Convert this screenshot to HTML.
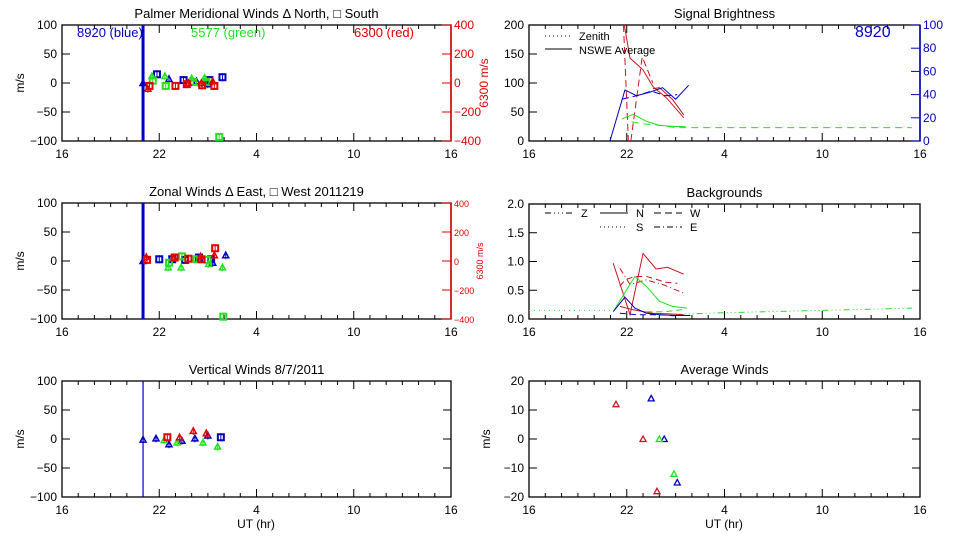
<!DOCTYPE html>
<html><head><meta charset="utf-8"><style>
html,body{margin:0;padding:0;background:#fff;}
svg{display:block;font-family:"Liberation Sans",sans-serif;}
</style></head><body>
<svg id="chart" width="960" height="540" viewBox="0 0 960 540"></svg>
<script>
// ---------- data ----------
const xTickLabels = ["16","22","4","10","16"];
const xTickHours = [16,22,28,34,40];
// Meridional winds (left axis units m/s; red converted via right axis x4)
const merBlueH = [21.0,21.86,22.6,23.5,24.3,25.0,25.1,25.9];
const merBlueV = [0,15,7,5,3,-2,5,10];
const merBlueM = ["t","s","t","s","t","t","s","s"];
const merGreenH = [21.55,21.6,22.35,22.4,24.0,24.1,24.8,24.9,25.7];
const merGreenV = [12,4,12,-5,8,2,9,2,-93];
const merGreenM = ["t","s","t","s","t","s","t","s","s"];
const merRedH = [21.3,21.4,23.0,23.7,23.8,24.6,24.65,25.3,25.4];
const merRedV = [-40,-20,-20,-8,0,0,-16,12,-20];
const merRedM = ["t","s","s","s","t","t","s","t","s"];
// Zonal winds
const zonBlueH = [21.0,22.0,22.8,23.6,24.45,25.3,25.2,26.1];
const zonBlueV = [0,3,3,2,6,-3,3,10];
const zonBlueM = ["t","s","s","s","s","t","s","t"];
const zonGreenH = [22.55,22.6,23.35,23.4,24.3,25.0,25.05,25.9,25.95];
const zonGreenV = [-11,-3,-11,8,3,2,-5,-11,-96];
const zonGreenM = ["t","s","t","s","s","s","t","t","s"];
const zonRedH = [21.2,21.25,22.9,22.95,23.8,24.55,24.6,25.4,25.45];
const zonRedV = [28,8,24,24,16,32,12,40,88];
const zonRedM = ["t","s","t","s","s","t","s","t","s"];
// Vertical winds
const verBlueH = [21.0,21.8,22.6,23.4,24.2,25.0,25.8];
const verBlueV = [-1,1,-9,-3,1,6,3];
const verBlueM = ["t","t","t","t","t","t","s"];
const verGreenH = [22.3,23.1,24.7,25.6];
const verGreenV = [-2,-6,-6,-13];
const verGreenM = ["t","t","t","t"];
const verRedH = [22.5,23.25,24.1,24.9];
const verRedV = [3,3,14,10];
const verRedM = ["s","t","t","t"];
// Signal brightness
const sbRedSolidH = [21.85,22.2,22.99,23.6,24.45,25.5];
const sbRedSolidV = [210,143,123,94,74,40];
const sbRed2H = [23.6,24.0,24.8,25.5];
const sbRed2V = [90,92,72,45];
const sbRedDashAH = [21.8,22.1];
const sbRedDashAV = [210,0];
const sbRedDashBH = [22.25,22.95,23.6];
const sbRedDashBV = [0,145,100];
const sbBlueSolidH = [20.97,21.89,22.6,23.4,24.2,25.0,25.8];
const sbBlueSolidV = [0,44,39,42,46,36,48];
const sbBlueDashH = [21.7,22.6,23.5,24.4,25.1];
const sbBlueDashV = [36,39,43,39,40];
const sbGreenSolidH = [21.7,22.4,23.2,24.0,25.0,25.6];
const sbGreenSolidV = [38,46,34,27,25,25];
const sbGreenDashH = [22.3,23.2,24.1,25.0,39.5];
const sbGreenDashV = [33,29,27,23,23];
// Backgrounds
const bgRedNH = [21.17,22.2,23.0,23.8,24.5,25.5];
const bgRedNV = [0.97,0.075,1.14,0.87,0.90,0.78];
const bgRedWH = [21.58,21.89,22.5,23.2,24.4,25.1];
const bgRedWV = [0.57,0.68,0.74,0.74,0.64,0.62];
const bgRedEH = [21.58,22.2,23.2,24.2,25.5];
const bgRedEV = [0.88,0.6,0.68,0.6,0.45];
const bgRedZH = [21.58,22.4,23.6,24.6,25.5];
const bgRedZV = [0.22,0.16,0.1,0.09,0.075];
const bgGreenNH = [21.17,22.5,23.2,24.0,24.8,25.7];
const bgGreenNV = [0.13,0.74,0.57,0.31,0.22,0.19];
const bgGreenWH = [23.2,24.4,25.5];
const bgGreenWV = [0.19,0.19,0.25];
const bgGreenSH = [16,21.17];
const bgGreenSV = [0.15,0.15];
const bgGreenZH = [25.0,28,31,34,37,39.5];
const bgGreenZV = [0.08,0.11,0.13,0.15,0.17,0.19];
const bgBlueNH = [21.17,21.89,22.5,23.2,24.0,25.0,25.9];
const bgBlueNV = [0.13,0.38,0.19,0.1,0.075,0.06,0.06];
const bgBlueWH = [21.58,22.6,24.0,25.2];
const bgBlueWV = [0.1,0.075,0.075,0.05];
// Average winds
const avRedH = [21.34,23.0,23.86];
const avRedV = [12,0,-18];
const avBlueH = [23.5,24.3,25.1];
const avBlueV = [14,0,-15];
const avGreenH = [24.0,24.9];
const avGreenV = [0,-12];

const BLUE="#0000c0", GREEN="#22e022", RED="#e00000", DRED="#cc1122";
const NS="http://www.w3.org/2000/svg";
const svg=document.getElementById('chart');
function el(tag,attrs,parent){const e=document.createElementNS(NS,tag);for(const k in attrs)e.setAttribute(k,attrs[k]);(parent||svg).appendChild(e);return e;}
function txt(s,x,y,size,fill,anchor,parent){const t=el('text',{x:x,y:y,'font-size':size,fill:fill,'text-anchor':anchor||'middle'},parent);t.textContent=s;return t;}

function makePanel(x0,x1,y0,y1,ymin,ymax,ytv,ytl,title,name,rightBlack){
  const g=el('g',{});
  
  
  const P={x0,x1,y0,y1,g,
    sx:h=>x0+(h-16)/24*(x1-x0),
    sy:v=>y1-(v-ymin)/(ymax-ymin)*(y1-y0)};
  const box=el('rect',{x:x0,y:y0,width:x1-x0,height:y1-y0,fill:'none',stroke:'#000','stroke-width':1.3},g);
  
  
  for(let h=16;h<=40;h++){
    const x=P.sx(h);const major=(h-16)%6===0;const L=major?8:4;
    el('line',{x1:x,y1:y1,x2:x,y2:y1-L,stroke:'#000'},g);
    el('line',{x1:x,y1:y0,x2:x,y2:y0+L,stroke:'#000'},g);
  }
  xTickHours.forEach((h,i)=>{const t=txt(xTickLabels[i],P.sx(h),y1+17,12,'#000','middle',g);
    
    });
  ytv.forEach((v,i)=>{const y=P.sy(v);
    el('line',{x1:x0,y1:y,x2:x0+8,y2:y,stroke:'#000'},g);
    if(rightBlack)el('line',{x1:x1,y1:y,x2:x1-8,y2:y,stroke:'#000'},g);
    const t=txt(ytl[i],x0-5,y+4,12,'#000','end',g);
    
    });
  const tt=txt(title,(x0+x1)/2,y0-7,13,'#000','middle',g);
  
  
  return P;
}
function rightAxis(P,min,max,vals,color,size,name){
  const a=el('g',{},P.g);
  
  
  el('line',{x1:P.x1,y1:P.y0,x2:P.x1,y2:P.y1,stroke:color,'stroke-width':1.5},a);
  vals.forEach(v=>{const y=P.y1-(v-min)/(max-min)*(P.y1-P.y0);
    el('line',{x1:P.x1,y1:y,x2:P.x1-9,y2:y,stroke:color},a);
    txt(v<0?'\u2212'+(-v):String(v),P.x1+3,y+4,size,color,'start',a);});
}
function yTitle(s,x,y,color,size,parent){const t=el('text',{x:x,y:y,'font-size':size,fill:color,'text-anchor':'middle',transform:`rotate(-90 ${x} ${y})`},parent);t.textContent=s;return t;}
function marker(P,h,v,type,color,scale){
  const x=P.sx(h),y=P.sy(v/(scale||1));
  let m;
  if(type==='t')m=el('polygon',{points:`${x-3},${y+2.5} ${x+3},${y+2.5} ${x},${y-3}`,fill:'none',stroke:color,'stroke-width':1.5},P.g);
  else m=el('rect',{x:x-3,y:y-3,width:6,height:6,fill:'none',stroke:color,'stroke-width':2},P.g);
  
  
  const e=el('line',{x1:x,y1:y-4,x2:x,y2:y+4,stroke:color},P.g);
}
function series(P,H,V,M,color,scale){H.forEach((h,i)=>marker(P,h,V[i],M[i],color,scale));}
function line(P,H,V,color,dash,scale,name){
  const pts=H.map((h,i)=>`${P.sx(h)},${Math.max(P.y0,Math.min(P.y1,P.sy(V[i]/(scale||1))))}`).join(' ');
  const l=el('polyline',{points:pts,fill:'none',stroke:color,'stroke-width':1,'stroke-dasharray':dash||'none'},P.g);
  
  
}
const wind5=[100,50,0,-50,-100], wind5L=["100","50","0","\u221250","\u2212100"];

// Panel 1 meridional
const P1=makePanel(62,451,25,141,-100,100,wind5,wind5L,"Palmer Meridional Winds \u0394 North, \u25A1 South","meridional-winds-panel",false);
rightAxis(P1,-400,400,[400,200,0,-200,-400],RED,12,'right-axis-6300');
let t=yTitle("m/s",24,83,'#000',12,P1.g);
t=yTitle("6300 m/s",488,83,RED,12,P1.g);
t=txt("8920 (blue)",77,37,13,BLUE,'start',P1.g);
t=txt("5577 (green)",191,37,13,GREEN,'start',P1.g);
t=txt("6300 (red)",354,37,13,RED,'start',P1.g);
let vl=el('line',{x1:P1.sx(21),y1:P1.y0,x2:P1.sx(21),y2:P1.y1,stroke:BLUE,'stroke-width':3},P1.g);

series(P1,merBlueH,merBlueV,merBlueM,BLUE);
series(P1,merGreenH,merGreenV,merGreenM,GREEN);
series(P1,merRedH,merRedV,merRedM,RED,4);

// Panel 2 zonal
const P2=makePanel(62,451,203,319,-100,100,wind5,wind5L,"Zonal Winds \u0394 East, \u25A1 West 2011219","zonal-winds-panel",false);
rightAxis(P2,-400,400,[400,200,0,-200,-400],RED,9,'right-axis-6300');
t=yTitle("m/s",24,261,'#000',12,P2.g);
t=yTitle("6300 m/s",483,261,RED,9,P2.g);
vl=el('line',{x1:P2.sx(21),y1:P2.y0,x2:P2.sx(21),y2:P2.y1,stroke:BLUE,'stroke-width':3},P2.g);

series(P2,zonBlueH,zonBlueV,zonBlueM,BLUE);
series(P2,zonGreenH,zonGreenV,zonGreenM,GREEN);
series(P2,zonRedH,zonRedV,zonRedM,RED,4);

// Panel 3 vertical
const P3=makePanel(62,451,381,497,-100,100,wind5,wind5L,"Vertical Winds 8/7/2011","vertical-winds-panel",true);
t=yTitle("m/s",24,439,'#000',12,P3.g);
t=txt("UT (hr)",256,528,12,'#000','middle',P3.g);
vl=el('line',{x1:P3.sx(21),y1:P3.y0,x2:P3.sx(21),y2:P3.y1,stroke:BLUE,'stroke-width':1.2},P3.g);

series(P3,verBlueH,verBlueV,verBlueM,BLUE);
series(P3,verGreenH,verGreenV,verGreenM,GREEN);
series(P3,verRedH,verRedV,verRedM,RED);

// Panel 4 signal brightness
const P4=makePanel(529,920,25,141,0,200,[200,150,100,50,0],["200","150","100","50","0"],"Signal Brightness","signal-brightness-panel",false);
rightAxis(P4,0,100,[0,20,40,60,80,100],BLUE,12,'right-axis-8920');
line(P4,sbRedSolidH,sbRedSolidV,DRED,null,1,'red-nswe-line');
line(P4,sbRed2H,sbRed2V,DRED,null,1,'red-nswe-line-2');
line(P4,sbRedDashAH,sbRedDashAV,DRED,'7,4',1,'red-zenith-line');
line(P4,sbRedDashBH,sbRedDashBV,DRED,'7,4',1,'red-zenith-line-2');
line(P4,sbBlueSolidH,sbBlueSolidV,BLUE,null,0.5,'blue-nswe-line');
line(P4,sbBlueDashH,sbBlueDashV,BLUE,'7,4',0.5,'blue-zenith-line');
line(P4,sbGreenSolidH,sbGreenSolidV,GREEN,null,1,'green-nswe-line');
line(P4,sbGreenDashH,sbGreenDashV,GREEN,'7,5',1,'green-zenith-line');
el('line',{x1:545,y1:36,x2:572,y2:36,stroke:'#000','stroke-dasharray':'1,3'},P4.g);
t=txt("Zenith",579,40,11,'#000','start',P4.g);
el('line',{x1:545,y1:49,x2:572,y2:49,stroke:'#000'},P4.g);
t=txt("NSWE Average",579,54,11,'#000','start',P4.g);
t=txt("8920",855,37,16,BLUE,'start',P4.g);

// Panel 5 backgrounds
const P5=makePanel(529,920,204,319,0,2,[2,1.5,1,0.5,0],["2.0","1.5","1.0","0.5","0.0"],"Backgrounds","backgrounds-panel",true);
line(P5,bgGreenSH,bgGreenSV,GREEN,'1,4',1,'green-s-line');
line(P5,bgGreenZH,bgGreenZV,GREEN,'6,3,1,3,1,3,1,3',1,'green-z-line');
line(P5,bgRedNH,bgRedNV,DRED,null,1,'red-n-line');
line(P5,bgRedWH,bgRedWV,DRED,'6,4',1,'red-w-line');
line(P5,bgRedEH,bgRedEV,DRED,'6,3,1,3',1,'red-e-line');
line(P5,bgRedZH,bgRedZV,DRED,null,1,'red-z-line');
line(P5,bgGreenNH,bgGreenNV,GREEN,null,1,'green-n-line');
line(P5,bgGreenWH,bgGreenWV,GREEN,'6,4',1.5,'green-w-line');
line(P5,bgBlueNH,bgBlueNV,BLUE,null,1,'blue-n-line');
line(P5,bgBlueWH,bgBlueWV,BLUE,'6,4',1,'blue-w-line');
const lg=[["Z",545,213,'6,3,1,3,1,3,1,3'],["N",600,213,null],["W",654,213,'7,4'],["S",600,227,'1,3'],["E",654,227,'6,3,1,3']];
lg.forEach(d=>{el('line',{x1:d[1],y1:d[2],x2:d[1]+28,y2:d[2],stroke:'#000','stroke-dasharray':d[3]||'none'},P5.g);
  const q=txt(d[0],d[1]+36,d[2]+4,11,'#000','start',P5.g);
  
  });

// Panel 6 average winds
const P6=makePanel(529,920,381,497,-20,20,[20,10,0,-10,-20],["20","10","0","\u221210","\u221220"],"Average Winds","average-winds-panel",true);
t=yTitle("m/s",490,439,'#000',12,P6.g);
t=txt("UT (hr)",724,528,12,'#000','middle',P6.g);
function avg(H,V,c){H.forEach((h,i)=>{const x=P6.sx(h),y=P6.sy(V[i]);
  const m=el('polygon',{points:`${x-3},${y+2.5} ${x+3},${y+2.5} ${x},${y-3}`,fill:'none',stroke:c,'stroke-width':1.3},P6.g);
  
  });}
avg(avRedH,avRedV,DRED);avg(avBlueH,avBlueV,BLUE);avg(avGreenH,avGreenV,GREEN);
</script>
</body></html>
